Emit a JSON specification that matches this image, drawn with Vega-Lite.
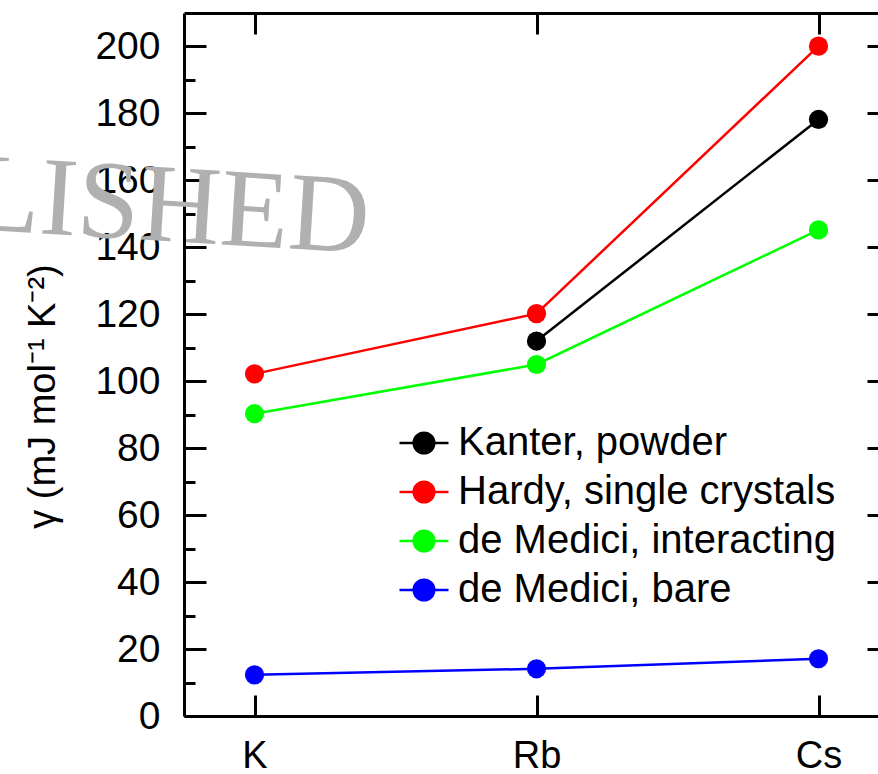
{
  "$schema": "https://vega.github.io/schema/vega-lite/v6.json",
  "autosize": "none",
  "width": 705,
  "height": 703,
  "padding": {"left": 184, "top": 13, "right": 0, "bottom": 58},
  "background": "white",
  "config": {"view": {"stroke": null}, "font": "Liberation Sans"},
  "title": {"text": "LISHED", "font": "Liberation Serif", "fontSize": 112, "fontWeight": "normal", "color": "#b0b0b0", "anchor": "start", "frame": "group", "orient": "top", "baseline": "alphabetic", "offset": 0, "dx": -192, "dy": 366, "angle": 3.5},
  "data": {"values": [
    {"metal": "Rb", "gamma": 112, "series": "Kanter, powder"},
    {"metal": "Cs", "gamma": 178.2, "series": "Kanter, powder"},
    {"metal": "K", "gamma": 102.2, "series": "Hardy, single crystals"},
    {"metal": "Rb", "gamma": 120.2, "series": "Hardy, single crystals"},
    {"metal": "Cs", "gamma": 200.1, "series": "Hardy, single crystals"},
    {"metal": "K", "gamma": 90.3, "series": "de Medici, interacting"},
    {"metal": "Rb", "gamma": 105, "series": "de Medici, interacting"},
    {"metal": "Cs", "gamma": 145.2, "series": "de Medici, interacting"},
    {"metal": "K", "gamma": 12.3, "series": "de Medici, bare"},
    {"metal": "Rb", "gamma": 14.1, "series": "de Medici, bare"},
    {"metal": "Cs", "gamma": 17.1, "series": "de Medici, bare"}
  ]},
  "layer": [
    {
      "mark": {"type": "line", "strokeWidth": 2.5},
      "encoding": {
        "x": {"field": "metal", "type": "ordinal", "sort": ["K", "Rb", "Cs"], "scale": {"type": "point", "padding": 0.25},
          "axis": {"orient": "bottom", "title": null, "labelAngle": 0, "labelFontSize": 38, "labelColor": "black", "domainColor": "black", "domainWidth": 3, "tickColor": "black", "tickWidth": 3, "tickSize": -21, "labelPadding": 42}},
        "y": {"field": "gamma", "type": "quantitative", "scale": {"domain": [0, 210], "nice": false, "zero": true},
          "axis": {"orient": "left", "values": [0,10,20,30,40,50,60,70,80,90,100,110,120,130,140,150,160,170,180,190,200], "labelExpr": "datum.value % 20 === 0 ? datum.label : ''", "labelFontSize": 39, "labelColor": "black", "domainColor": "black", "domainWidth": 3, "tickColor": "black", "tickWidth": 3, "tickSize": {"condition": {"test": "datum.value % 20 !== 0", "value": -11}, "value": -22}, "labelPadding": 46, "grid": false,
            "title": "γ (mJ mol⁻¹ K⁻²)", "titleFont": "Liberation Sans", "titleFontSize": 38, "titleFontWeight": "normal", "titleColor": "black", "titleX": -141, "titleY": 383, "titleAngle": -90, "titleBaseline": "middle", "titleAlign": "center"}},
        "color": {"field": "series", "type": "nominal",
          "scale": {"domain": ["Kanter, powder", "Hardy, single crystals", "de Medici, interacting", "de Medici, bare"], "range": ["#000000", "#ff0000", "#00ff00", "#0000ff"]},
          "legend": {"orient": "none", "legendX": 214, "legendY": 404, "title": null, "labelFontSize": 40, "labelFont": "Liberation Sans", "labelColor": "black", "labelLimit": 0, "labelOffset": 8, "symbolType": "M-1,0H1M-0.42,0A0.42,0.42,0,1,1,0.42,0A0.42,0.42,0,1,1,-0.42,0Z", "symbolSize": 2400, "symbolStrokeWidth": 2.5, "rowPadding": 3, "padding": 0,
            "encode": {"symbols": {"update": {"fill": {"scale": "color", "field": "value"}, "stroke": {"scale": "color", "field": "value"}, "opacity": {"value": 1}, "fillOpacity": {"value": 1}}}}}
        }
      }
    },
    {
      "mark": {"type": "point", "filled": true, "size": 370, "opacity": 1},
      "encoding": {
        "x": {"field": "metal", "type": "ordinal", "sort": ["K", "Rb", "Cs"],
          "axis": {"orient": "top", "title": null, "labels": false, "domainColor": "black", "domainWidth": 3, "tickColor": "black", "tickWidth": 3, "tickSize": -21}},
        "y": {"field": "gamma", "type": "quantitative",
          "axis": {"orient": "right", "title": null, "labels": false, "grid": false, "values": [0,10,20,30,40,50,60,70,80,90,100,110,120,130,140,150,160,170,180,190,200], "domainColor": "black", "domainWidth": 3, "tickColor": "black", "tickWidth": 3, "tickSize": {"condition": {"test": "datum.value % 20 !== 0", "value": -11}, "value": -22}}},
        "color": {"field": "series", "type": "nominal"}
      }
    }
  ],
  "resolve": {"axis": {"x": "independent", "y": "independent"}}
}
